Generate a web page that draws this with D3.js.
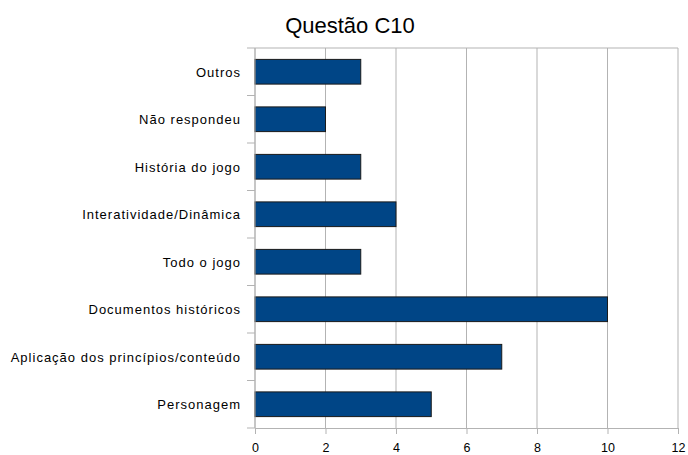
<!DOCTYPE html>
<html><head><meta charset="utf-8">
<script src="https://cdn.jsdelivr.net/npm/d3@7"></script>
<style>body{margin:0;background:#fff}svg{display:block}</style>
</head><body>
<script>
const categories = ["Outros","Não respondeu","História do jogo","Interatividade/Dinâmica","Todo o jogo","Documentos históricos","Aplicação dos princípios/conteúdo","Personagem"];
const values = [3,2,3,4,3,10,7,5];
const xTicks = [0,2,4,6,8,10,12];
const title = "Questão C10";

const W=688,H=455;
const m={left:255,right:10,top:48,bottom:27};
const svg=d3.select("body").append("svg").attr("width",W).attr("height",H);
const x=d3.scaleLinear().domain([0,12]).range([m.left,W-m.right]);
const y=d3.scaleBand().domain(categories).range([m.top,H-m.bottom]).paddingInner(0.48).paddingOuter(0.24);
const font="Liberation Sans, Arial, sans-serif";

// grid
svg.append("g").selectAll("line").data(xTicks).join("line")
 .attr("x1",d=>x(d)).attr("x2",d=>x(d)).attr("y1",m.top).attr("y2",H-m.bottom)
 .attr("stroke","#b3b3b3").attr("stroke-width",1);
svg.append("line").attr("x1",m.left).attr("x2",x(12)).attr("y1",m.top).attr("y2",m.top).attr("stroke","#b3b3b3");

// bars
svg.append("g").selectAll("rect").data(values).join("rect")
 .attr("x",x(0)).attr("y",(d,i)=>y(categories[i]))
 .attr("width",d=>x(d)-x(0)).attr("height",y.bandwidth())
 .attr("fill","#004586").attr("stroke","#1a1a1a").attr("stroke-width",1);

// x axis
const xa=svg.append("g").attr("transform",`translate(0,${H-m.bottom})`)
 .call(d3.axisBottom(x).tickValues(xTicks).tickSize(6).tickPadding(9));
xa.select(".domain").attr("stroke","#b3b3b3");
xa.selectAll(".tick line").attr("stroke","#b3b3b3");
xa.selectAll("text").attr("font-family",font).attr("font-size",12.5).attr("fill","#000");

// y axis: boundary ticks
const bounds=[];
const step=(H-m.bottom-m.top)/categories.length;
for(let i=0;i<=categories.length;i++) bounds.push(m.top+i*step);
svg.append("line").attr("x1",m.left).attr("x2",m.left).attr("y1",m.top).attr("y2",H-m.bottom).attr("stroke","#b3b3b3");
svg.append("g").selectAll("line").data(bounds).join("line")
 .attr("x1",m.left-8).attr("x2",m.left).attr("y1",d=>d).attr("y2",d=>d).attr("stroke","#b3b3b3");
svg.append("g").selectAll("text").data(categories).join("text")
 .attr("x",241).attr("y",d=>y(d)+y.bandwidth()/2).attr("dy","0.38em")
 .attr("text-anchor","end").attr("font-family",font).attr("font-size",13).attr("letter-spacing",1.0).attr("fill","#000")
 .text(d=>d);

svg.append("text").attr("x",350).attr("y",33).attr("text-anchor","middle")
 .attr("font-family",font).attr("font-size",22).attr("fill","#000").text(title);
</script>
</body></html>
